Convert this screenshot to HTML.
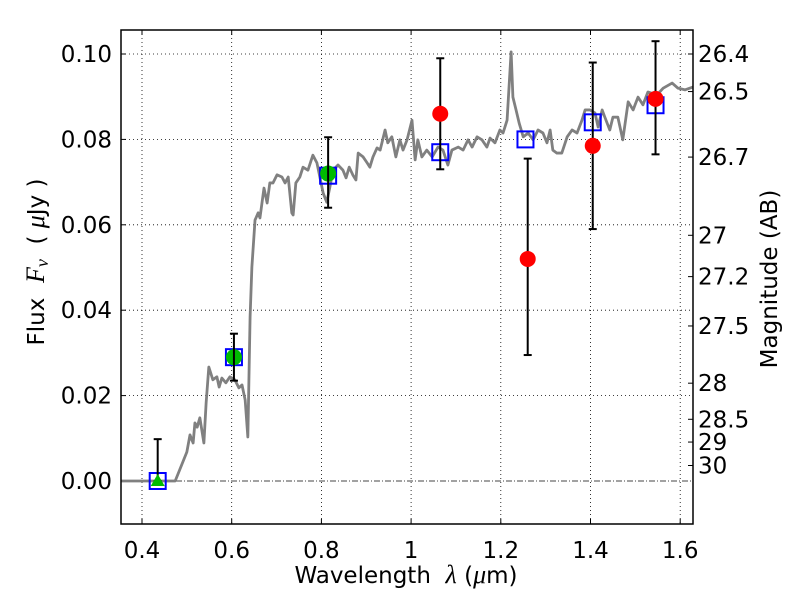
<!DOCTYPE html>
<html><head><meta charset="utf-8"><style>
body{margin:0;background:#fff}
svg text{font-family:"DejaVu Sans","Liberation Sans",sans-serif;fill:#000;white-space:pre}
.m{font-family:"Liberation Serif","DejaVu Serif",serif;font-style:italic}
</style></head><body>
<svg id="c" width="800" height="600" viewBox="0 0 800 600" xmlns="http://www.w3.org/2000/svg" xml:space="preserve">
<rect width="800" height="600" fill="#fff"/>
</svg>
<script>
const xTicks=[0.4,0.6,0.8,1.0,1.2,1.4,1.6];
const xTickLabels=["0.4","0.6","0.8","1","1.2","1.4","1.6"];
const yTicks=[0,0.02,0.04,0.06,0.08,0.10];
const yTickLabels=["0.00","0.02","0.04","0.06","0.08","0.10"];
const magTicks=[26.4,26.5,26.7,27,27.2,27.5,28,28.5,29,30];
const magLabels=["26.4","26.5","26.7","27","27.2","27.5","28","28.5","29","30"];
const specWave=[0.353,0.474,0.500,0.507,0.514,0.518,0.523,0.529,0.538,0.543,0.549,0.558,0.567,0.572,0.578,0.587,0.596,0.607,0.616,0.623,0.630,0.636,0.641,0.645,0.652,0.659,0.663,0.672,0.679,0.685,0.692,0.701,0.712,0.719,0.726,0.734,0.737,0.743,0.752,0.759,0.770,0.781,0.790,0.804,0.812,0.819,0.826,0.837,0.848,0.855,0.862,0.870,0.877,0.882,0.893,0.902,0.908,0.915,0.924,0.931,0.942,0.948,0.957,0.966,0.975,0.982,0.991,1.002,1.009,1.015,1.024,1.035,1.047,1.060,1.071,1.082,1.091,1.105,1.116,1.127,1.136,1.147,1.158,1.169,1.176,1.187,1.198,1.205,1.214,1.223,1.227,1.234,1.241,1.250,1.261,1.272,1.283,1.294,1.303,1.310,1.316,1.325,1.336,1.348,1.359,1.370,1.381,1.388,1.399,1.410,1.417,1.426,1.432,1.443,1.450,1.461,1.472,1.484,1.495,1.506,1.517,1.528,1.548,1.562,1.582,1.595,1.611,1.629];
const specFlux=[0,0,0.0068,0.0108,0.0089,0.0136,0.0126,0.0148,0.0089,0.0183,0.0267,0.0237,0.0244,0.0220,0.0241,0.0230,0.0244,0.0237,0.0218,0.0225,0.0190,0.0103,0.0384,0.0501,0.0611,0.0628,0.0616,0.0686,0.0651,0.0698,0.0698,0.0717,0.0712,0.0698,0.0712,0.0628,0.0623,0.0698,0.0712,0.0735,0.0728,0.0763,0.0745,0.0674,0.0653,0.0689,0.0728,0.0740,0.0728,0.0710,0.0735,0.0717,0.0705,0.0768,0.0759,0.0745,0.0735,0.0759,0.0780,0.0775,0.0822,0.0792,0.0806,0.0759,0.0799,0.0775,0.0799,0.0845,0.0752,0.0799,0.0759,0.0775,0.0759,0.0782,0.0775,0.0740,0.0775,0.0782,0.0775,0.0799,0.0782,0.0806,0.0799,0.0782,0.0803,0.0792,0.0822,0.0815,0.0845,0.1005,0.0899,0.0869,0.0838,0.0806,0.0815,0.0799,0.0822,0.0815,0.0792,0.0822,0.0775,0.0768,0.0768,0.0806,0.0822,0.0815,0.0845,0.0869,0.0869,0.0862,0.0829,0.0869,0.0852,0.0822,0.0852,0.0852,0.0799,0.0888,0.0869,0.0899,0.0881,0.0911,0.0904,0.0920,0.0932,0.0920,0.0916,0.0923];
const modelWave=[0.435,0.605,0.815,1.065,1.255,1.405,1.545];
const modelFlux=[0.000,0.029,0.0715,0.077,0.080,0.084,0.088];
const obsGreenWave=[0.605,0.815];
const obsGreenFlux=[0.029,0.072];
const obsGreenLo=[0.0235,0.064];
const obsGreenHi=[0.0345,0.0805];
const limWave=[0.435];
const limFlux=[0.0];
const limHi=[0.0098];
const obsRedWave=[1.065,1.26,1.405,1.545];
const obsRedFlux=[0.086,0.052,0.0785,0.0895];
const obsRedLo=[0.073,0.0295,0.059,0.0765];
const obsRedHi=[0.099,0.0755,0.098,0.103];

const L=121,R=693,T=30,B=524;
const X=w=>142+(w-0.4)*448.5;
const Y=f=>481-f*4270;
const magToFlux=m=>Math.pow(10,(23.9-m)/2.5);
const svg=document.getElementById('c');
const NS="http://www.w3.org/2000/svg";
function el(tag,attrs,parent){const e=document.createElementNS(NS,tag);for(const k in attrs)e.setAttribute(k,attrs[k]);(parent||svg).appendChild(e);return e;}

const grid=el('g',{});


xTicks.forEach((t,i)=>{
  const x=X(t);
  const g=el('line',{x1:x,x2:x,y1:T,y2:B,stroke:'#000','stroke-width':0.8,'stroke-dasharray':'1,3'},grid);
  
  
  el('line',{x1:x,x2:x,y1:B,y2:B-5,stroke:'#000','stroke-width':1},grid);
  el('line',{x1:x,x2:x,y1:T,y2:T+5,stroke:'#000','stroke-width':1},grid);
  const tx=el('text',{x:x,y:558,'font-size':23,'text-anchor':'middle'});
  tx.textContent=xTickLabels[i];
  
  
});
yTicks.forEach((t,i)=>{
  const y=Y(t);
  if(t!==0){
    const g=el('line',{x1:L,x2:R,y1:y,y2:y,stroke:'#000','stroke-width':0.8,'stroke-dasharray':'1,3'},grid);
    
    
  }
  el('line',{x1:L,x2:L+5,y1:y,y2:y,stroke:'#000','stroke-width':1},grid);
  const tx=el('text',{x:112,y:y+8,'font-size':23,'text-anchor':'end'});
  tx.textContent=yTickLabels[i];
  
  
});
const zl=el('line',{x1:L,x2:R,y1:Y(0),y2:Y(0),stroke:'#444','stroke-width':0.9,'stroke-dasharray':'6,2,1,2'});


magTicks.forEach((m,i)=>{
  const y=Y(magToFlux(m));
  el('line',{x1:R-5,x2:R,y1:y,y2:y,stroke:'#000','stroke-width':1});
  const tx=el('text',{x:698,y:y+8,'font-size':23});
  tx.textContent=magLabels[i];
  
  
});

const clip=el('clipPath',{id:'pc'});el('rect',{x:L,y:T,width:R-L,height:B-T},clip);
const sp=el('polyline',{points:specWave.map((w,i)=>X(w)+','+Y(specFlux[i])).join(' '),fill:'none',stroke:'#808080','stroke-width':2.8,'stroke-linejoin':'round','clip-path':'url(#pc)'});



function errbar(w,lo,hi){
  const x=X(w),g=el('g',{stroke:'#000','stroke-width':2});
  el('line',{x1:x,x2:x,y1:Y(lo),y2:Y(hi)},g);
  el('line',{x1:x-4,x2:x+4,y1:Y(lo),y2:Y(lo)},g);
  el('line',{x1:x-4,x2:x+4,y1:Y(hi),y2:Y(hi)},g);
  
  
}
modelWave.forEach((w,i)=>{
  const r=el('rect',{x:X(w)-8,y:Y(modelFlux[i])-8,width:16,height:16,fill:'none',stroke:'#0000ff','stroke-width':2});
  
  
});
limWave.forEach((w,i)=>{
  errbar(w,limFlux[i],limHi[i]);
  const x=X(w),y=Y(limFlux[i]);
  const p=el('polygon',{points:`${x},${y-7} ${x-7},${y+5} ${x+7},${y+5}`,fill:'#00bb00'});
  
  
});
obsGreenWave.forEach((w,i)=>{
  const c=el('circle',{cx:X(w),cy:Y(obsGreenFlux[i]),r:8,fill:'#00bb00'});
  
  
  errbar(w,obsGreenLo[i],obsGreenHi[i]);
});
obsRedWave.forEach((w,i)=>{
  errbar(w,obsRedLo[i],obsRedHi[i]);
  const c=el('circle',{cx:X(w),cy:Y(obsRedFlux[i]),r:8,fill:'#ff0000'});
  
  
});

const fr=el('rect',{x:L,y:T,width:R-L,height:B-T,fill:'none',stroke:'#000','stroke-width':1.5});



const xl=el('text',{x:406,y:583,'font-size':23,'text-anchor':'middle'});
xl.innerHTML='Wavelength  <tspan class="m" font-size="26">λ</tspan> (<tspan class="m" font-size="26">μ</tspan>m)';


const yl=el('text',{x:0,y:0,'font-size':23,'text-anchor':'middle',transform:'translate(44,262) rotate(-90)'});
yl.innerHTML='Flux  <tspan class="m" font-size="26">F</tspan><tspan class="m" font-size="18" dy="4">ν</tspan><tspan dy="-4">  ( </tspan><tspan class="m" font-size="26">μ</tspan>Jy )';


const ml=el('text',{x:0,y:0,'font-size':23,'text-anchor':'middle',transform:'translate(777,279) rotate(-90)'});
ml.textContent='Magnitude (AB)';


</script>
</body></html>
